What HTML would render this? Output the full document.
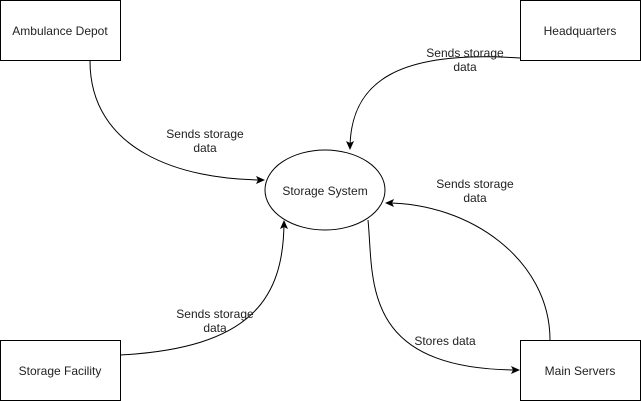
<!DOCTYPE html>
<html><head><style>
html,body{margin:0;padding:0;background:#fff;}
svg{display:block;}
text{font-family:"Liberation Sans",Arial,sans-serif;font-size:12px;fill:#222;}
</style></head><body>
<svg width="641" height="401" viewBox="0 0 641 401" xmlns="http://www.w3.org/2000/svg">
<defs>
<marker id="a" markerWidth="10" markerHeight="10" refX="8" refY="5" orient="auto" markerUnits="userSpaceOnUse">
<path d="M0,1 L9,5 L0,9 L2,5 Z" fill="#000"/>
</marker>
</defs>
<g fill="#fff" stroke="#000" stroke-width="1">
<rect x="0.5" y="0.5" width="120" height="60"/>
<rect x="520.5" y="0.5" width="120" height="60"/>
<rect x="0.5" y="340.5" width="120" height="60"/>
<rect x="520.5" y="340.5" width="120" height="60"/>
<ellipse cx="325" cy="190" rx="60" ry="40"/>
</g>
<g fill="none" stroke="#000" stroke-width="1" marker-end="url(#a)">
<path d="M90 61 C90 150 180 180 264 180"/>
<path d="M520 58 C400 50 350 80 350 149"/>
<path d="M120 355 C250 348 284 300 284 221"/>
<path d="M550 340 C550 260 470 203 386 203"/>
<path d="M368 220 C374 280 360 370 519 370"/>
</g>
<g text-anchor="middle">
<text x="60" y="35">Ambulance Depot</text>
<text x="580" y="35">Headquarters</text>
<text x="60" y="375">Storage Facility</text>
<text x="580" y="375">Main Servers</text>
<text x="325" y="195">Storage System</text>
<text x="205" y="138">Sends storage</text><text x="205" y="152">data</text>
<text x="465" y="57">Sends storage</text><text x="465" y="71">data</text>
<text x="215" y="318">Sends storage</text><text x="215" y="332">data</text>
<text x="475" y="188">Sends storage</text><text x="475" y="202">data</text>
<text x="445" y="345">Stores data</text>
</g>
</svg>
</body></html>
